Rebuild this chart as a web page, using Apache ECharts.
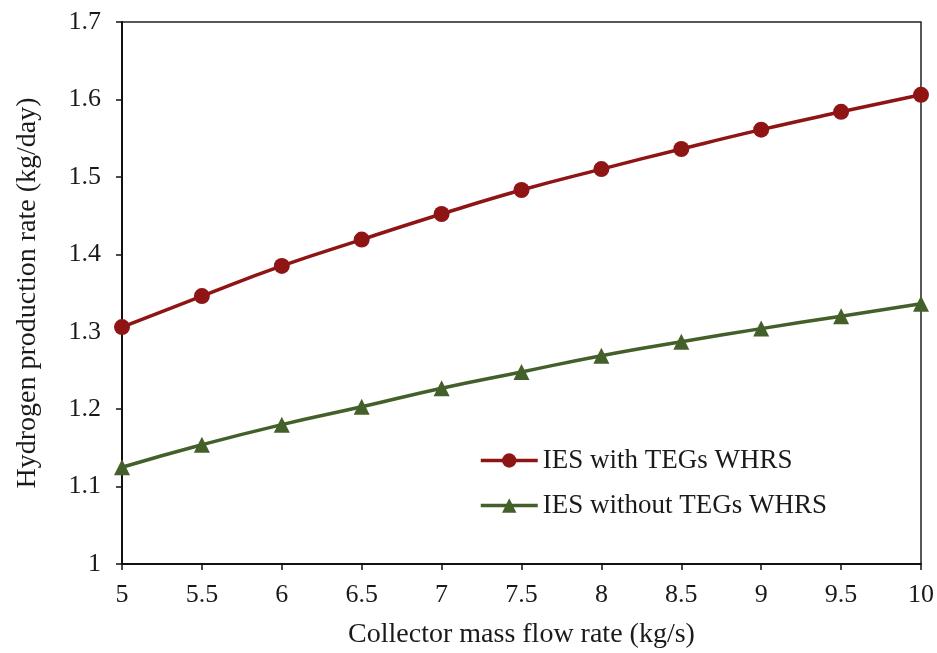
<!DOCTYPE html>
<html>
<head>
<meta charset="utf-8">
<script src="https://cdn.jsdelivr.net/npm/echarts@6/dist/echarts.min.js"></script>
<style>
  html, body { margin: 0; padding: 0; background: #fff; }
  #chart { width: 937px; height: 653px; }
</style>
</head>
<body>
<div id="chart"></div>
<script>
// collector mass flow rate (kg/s)
var flowRates = [5, 5.5, 6, 6.5, 7, 7.5, 8, 8.5, 9, 9.5, 10]
// hydrogen production rate (kg/day)
var withTEGs = [1.306, 1.346, 1.385, 1.419, 1.452, 1.483, 1.510, 1.536, 1.561, 1.584, 1.606]
var withoutTEGs = [1.125, 1.154, 1.180, 1.203, 1.227, 1.248, 1.269, 1.287, 1.304, 1.320, 1.336]

var seriesNames = ['IES with TEGs WHRS', 'IES without TEGs WHRS']

function pairs(ys) {
  return flowRates.map(function (x, i) { return [x, ys[i]] })
}

var font = 'Liberation Serif, Times New Roman, serif'
var chart = echarts.init(document.getElementById('chart'))

chart.setOption({
  animation: false,
  textStyle: { fontFamily: font },
  grid: {
    left: 122,
    right: 16,
    top: 22,
    bottom: 89,
    outerBoundsMode: 'none',
    show: true,
    borderColor: '#222',
    borderWidth: 1.5
  },
  legend: {
    orient: 'vertical',
    left: 474,
    top: 442,
    itemWidth: 57,
    itemHeight: 18,
    itemGap: 18,
    lineStyle: { width: 3.5 },
    textStyle: { fontFamily: font, fontSize: 27, color: '#1a1a1a' },
    data: seriesNames
  },
  xAxis: {
    type: 'value',
    min: 5,
    max: 10,
    interval: 0.5,
    name: 'Collector mass flow rate (kg/s)',
    nameLocation: 'middle',
    nameGap: 57,
    nameTextStyle: { fontFamily: font, fontSize: 28, color: '#1a1a1a' },
    axisLine: { lineStyle: { color: '#111', width: 2 } },
    axisTick: { show: true, length: 6, lineStyle: { color: '#111', width: 1.5 } },
    axisLabel: { fontFamily: font, fontSize: 26, color: '#1a1a1a', margin: 18 },
    splitLine: { show: false }
  },
  yAxis: {
    type: 'value',
    min: 1,
    max: 1.7,
    interval: 0.1,
    name: 'Hydrogen production rate (kg/day)',
    nameLocation: 'middle',
    nameGap: 80,
    nameTextStyle: { fontFamily: font, fontSize: 28, color: '#1a1a1a' },
    axisLine: { show: true, lineStyle: { color: '#111', width: 2 } },
    axisTick: { show: true, length: 6, lineStyle: { color: '#111', width: 1.5 } },
    axisLabel: {
      fontFamily: font, fontSize: 26, color: '#1a1a1a', margin: 21,
      formatter: function (v) { return v === 1 ? '1' : v.toFixed(1) }
    },
    splitLine: { show: false }
  },
  series: [
    {
      name: seriesNames[0],
      type: 'line',
      smooth: true,
      data: pairs(withTEGs),
      symbol: 'circle',
      symbolSize: 16,
      color: '#8f1515',
      lineStyle: { width: 3.5, color: '#8f1515' },
      itemStyle: { color: '#8f1515' }
    },
    {
      name: seriesNames[1],
      type: 'line',
      smooth: true,
      data: pairs(withoutTEGs),
      symbol: 'triangle',
      symbolSize: 16,
      color: '#43602a',
      lineStyle: { width: 3.5, color: '#43602a' },
      itemStyle: { color: '#43602a' }
    }
  ]
})
</script>
</body>
</html>
